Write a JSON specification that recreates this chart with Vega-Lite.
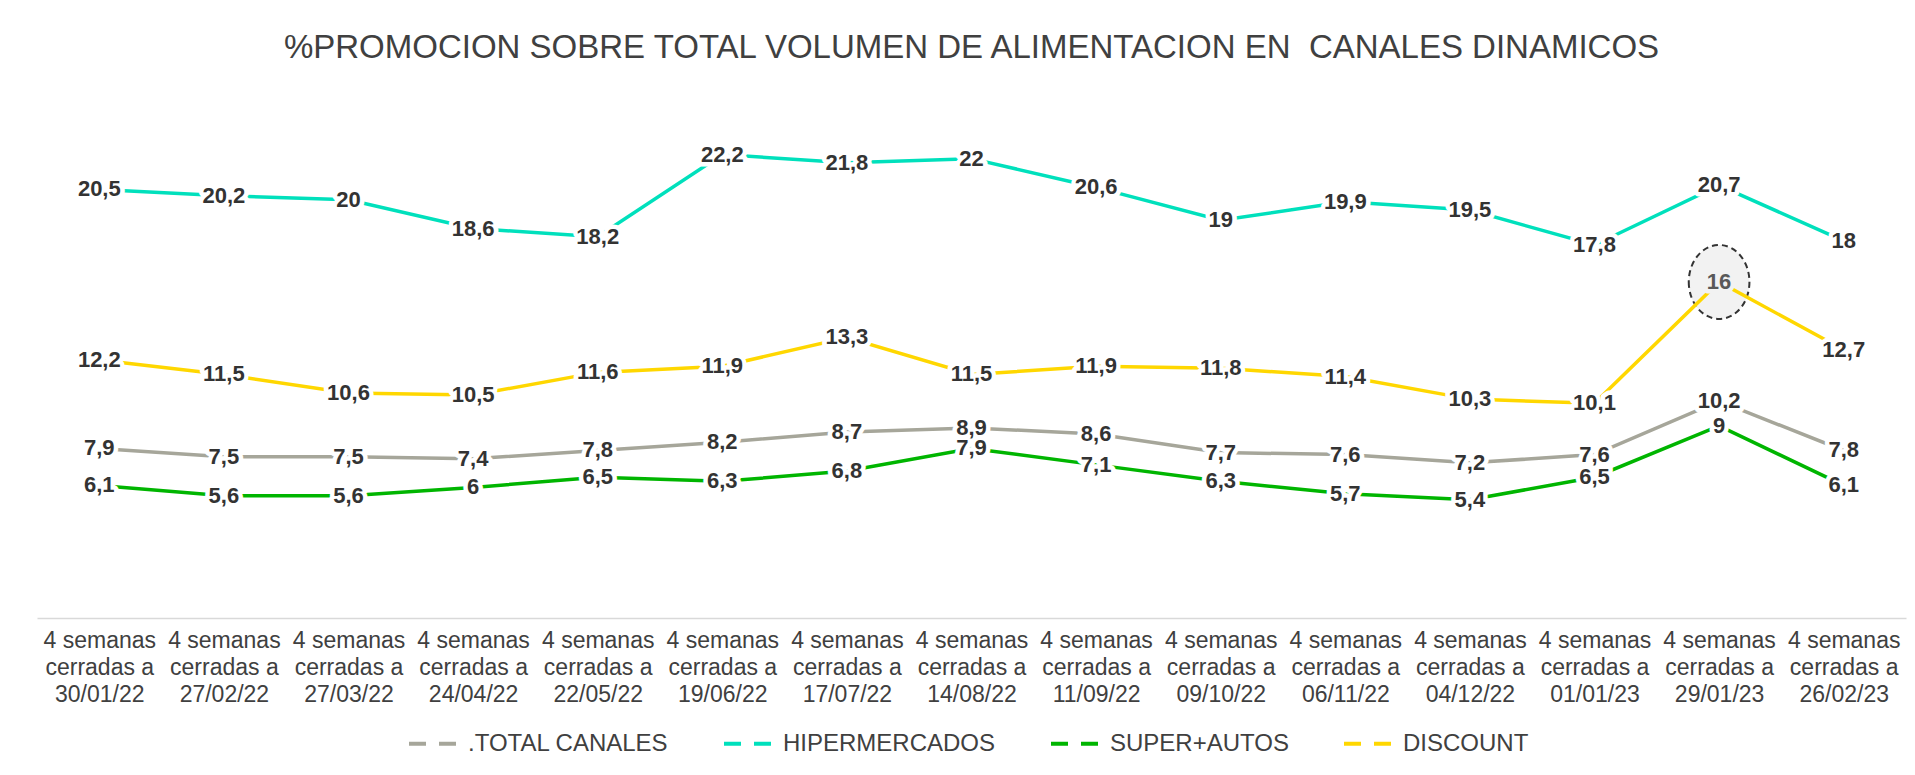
{
  "$schema": "https://vega.github.io/schema/vega-lite/v6.json",
  "autosize": "none",
  "width": 1869,
  "height": 521,
  "padding": {"left": 37, "top": 97, "right": 9, "bottom": 157},
  "background": "white",
  "config": {
    "view": {"stroke": null},
    "font": "Liberation Sans",
    "locale": {"number": {"decimal": ",", "thousands": ".", "grouping": [3], "currency": ["", " €"]}}
  },
  "title": {
    "text": "%PROMOCION SOBRE TOTAL VOLUMEN DE ALIMENTACION EN \u00a0CANALES DINAMICOS",
    "font": "Liberation Sans",
    "fontSize": 33,
    "fontWeight": "normal",
    "color": "#404040",
    "anchor": "middle",
    "offset": 32
  },
  "data": {
    "values": [
      {"periodo": "4 semanas cerradas a 30/01/22", "serie": ".TOTAL CANALES", "valor": 7.9},
      {"periodo": "4 semanas cerradas a 27/02/22", "serie": ".TOTAL CANALES", "valor": 7.5},
      {"periodo": "4 semanas cerradas a 27/03/22", "serie": ".TOTAL CANALES", "valor": 7.5},
      {"periodo": "4 semanas cerradas a 24/04/22", "serie": ".TOTAL CANALES", "valor": 7.4},
      {"periodo": "4 semanas cerradas a 22/05/22", "serie": ".TOTAL CANALES", "valor": 7.8},
      {"periodo": "4 semanas cerradas a 19/06/22", "serie": ".TOTAL CANALES", "valor": 8.2},
      {"periodo": "4 semanas cerradas a 17/07/22", "serie": ".TOTAL CANALES", "valor": 8.7},
      {"periodo": "4 semanas cerradas a 14/08/22", "serie": ".TOTAL CANALES", "valor": 8.9},
      {"periodo": "4 semanas cerradas a 11/09/22", "serie": ".TOTAL CANALES", "valor": 8.6},
      {"periodo": "4 semanas cerradas a 09/10/22", "serie": ".TOTAL CANALES", "valor": 7.7},
      {"periodo": "4 semanas cerradas a 06/11/22", "serie": ".TOTAL CANALES", "valor": 7.6},
      {"periodo": "4 semanas cerradas a 04/12/22", "serie": ".TOTAL CANALES", "valor": 7.2},
      {"periodo": "4 semanas cerradas a 01/01/23", "serie": ".TOTAL CANALES", "valor": 7.6},
      {"periodo": "4 semanas cerradas a 29/01/23", "serie": ".TOTAL CANALES", "valor": 10.2},
      {"periodo": "4 semanas cerradas a 26/02/23", "serie": ".TOTAL CANALES", "valor": 7.8},
      {"periodo": "4 semanas cerradas a 30/01/22", "serie": "HIPERMERCADOS", "valor": 20.5},
      {"periodo": "4 semanas cerradas a 27/02/22", "serie": "HIPERMERCADOS", "valor": 20.2},
      {"periodo": "4 semanas cerradas a 27/03/22", "serie": "HIPERMERCADOS", "valor": 20},
      {"periodo": "4 semanas cerradas a 24/04/22", "serie": "HIPERMERCADOS", "valor": 18.6},
      {"periodo": "4 semanas cerradas a 22/05/22", "serie": "HIPERMERCADOS", "valor": 18.2},
      {"periodo": "4 semanas cerradas a 19/06/22", "serie": "HIPERMERCADOS", "valor": 22.2},
      {"periodo": "4 semanas cerradas a 17/07/22", "serie": "HIPERMERCADOS", "valor": 21.8},
      {"periodo": "4 semanas cerradas a 14/08/22", "serie": "HIPERMERCADOS", "valor": 22},
      {"periodo": "4 semanas cerradas a 11/09/22", "serie": "HIPERMERCADOS", "valor": 20.6},
      {"periodo": "4 semanas cerradas a 09/10/22", "serie": "HIPERMERCADOS", "valor": 19},
      {"periodo": "4 semanas cerradas a 06/11/22", "serie": "HIPERMERCADOS", "valor": 19.9},
      {"periodo": "4 semanas cerradas a 04/12/22", "serie": "HIPERMERCADOS", "valor": 19.5},
      {"periodo": "4 semanas cerradas a 01/01/23", "serie": "HIPERMERCADOS", "valor": 17.8},
      {"periodo": "4 semanas cerradas a 29/01/23", "serie": "HIPERMERCADOS", "valor": 20.7},
      {"periodo": "4 semanas cerradas a 26/02/23", "serie": "HIPERMERCADOS", "valor": 18},
      {"periodo": "4 semanas cerradas a 30/01/22", "serie": "SUPER+AUTOS", "valor": 6.1},
      {"periodo": "4 semanas cerradas a 27/02/22", "serie": "SUPER+AUTOS", "valor": 5.6},
      {"periodo": "4 semanas cerradas a 27/03/22", "serie": "SUPER+AUTOS", "valor": 5.6},
      {"periodo": "4 semanas cerradas a 24/04/22", "serie": "SUPER+AUTOS", "valor": 6},
      {"periodo": "4 semanas cerradas a 22/05/22", "serie": "SUPER+AUTOS", "valor": 6.5},
      {"periodo": "4 semanas cerradas a 19/06/22", "serie": "SUPER+AUTOS", "valor": 6.3},
      {"periodo": "4 semanas cerradas a 17/07/22", "serie": "SUPER+AUTOS", "valor": 6.8},
      {"periodo": "4 semanas cerradas a 14/08/22", "serie": "SUPER+AUTOS", "valor": 7.9},
      {"periodo": "4 semanas cerradas a 11/09/22", "serie": "SUPER+AUTOS", "valor": 7.1},
      {"periodo": "4 semanas cerradas a 09/10/22", "serie": "SUPER+AUTOS", "valor": 6.3},
      {"periodo": "4 semanas cerradas a 06/11/22", "serie": "SUPER+AUTOS", "valor": 5.7},
      {"periodo": "4 semanas cerradas a 04/12/22", "serie": "SUPER+AUTOS", "valor": 5.4},
      {"periodo": "4 semanas cerradas a 01/01/23", "serie": "SUPER+AUTOS", "valor": 6.5},
      {"periodo": "4 semanas cerradas a 29/01/23", "serie": "SUPER+AUTOS", "valor": 9},
      {"periodo": "4 semanas cerradas a 26/02/23", "serie": "SUPER+AUTOS", "valor": 6.1},
      {"periodo": "4 semanas cerradas a 30/01/22", "serie": "DISCOUNT", "valor": 12.2},
      {"periodo": "4 semanas cerradas a 27/02/22", "serie": "DISCOUNT", "valor": 11.5},
      {"periodo": "4 semanas cerradas a 27/03/22", "serie": "DISCOUNT", "valor": 10.6},
      {"periodo": "4 semanas cerradas a 24/04/22", "serie": "DISCOUNT", "valor": 10.5},
      {"periodo": "4 semanas cerradas a 22/05/22", "serie": "DISCOUNT", "valor": 11.6},
      {"periodo": "4 semanas cerradas a 19/06/22", "serie": "DISCOUNT", "valor": 11.9},
      {"periodo": "4 semanas cerradas a 17/07/22", "serie": "DISCOUNT", "valor": 13.3},
      {"periodo": "4 semanas cerradas a 14/08/22", "serie": "DISCOUNT", "valor": 11.5},
      {"periodo": "4 semanas cerradas a 11/09/22", "serie": "DISCOUNT", "valor": 11.9},
      {"periodo": "4 semanas cerradas a 09/10/22", "serie": "DISCOUNT", "valor": 11.8},
      {"periodo": "4 semanas cerradas a 06/11/22", "serie": "DISCOUNT", "valor": 11.4},
      {"periodo": "4 semanas cerradas a 04/12/22", "serie": "DISCOUNT", "valor": 10.3},
      {"periodo": "4 semanas cerradas a 01/01/23", "serie": "DISCOUNT", "valor": 10.1},
      {"periodo": "4 semanas cerradas a 29/01/23", "serie": "DISCOUNT", "valor": 16},
      {"periodo": "4 semanas cerradas a 26/02/23", "serie": "DISCOUNT", "valor": 12.7}
    ]
  },
  "encoding": {
    "x": {
      "field": "periodo",
      "type": "ordinal",
      "sort": [
        "4 semanas cerradas a 30/01/22", "4 semanas cerradas a 27/02/22", "4 semanas cerradas a 27/03/22",
        "4 semanas cerradas a 24/04/22", "4 semanas cerradas a 22/05/22", "4 semanas cerradas a 19/06/22",
        "4 semanas cerradas a 17/07/22", "4 semanas cerradas a 14/08/22", "4 semanas cerradas a 11/09/22",
        "4 semanas cerradas a 09/10/22", "4 semanas cerradas a 06/11/22", "4 semanas cerradas a 04/12/22",
        "4 semanas cerradas a 01/01/23", "4 semanas cerradas a 29/01/23", "4 semanas cerradas a 26/02/23"
      ],
      "scale": {"padding": 0.5},
      "axis": {
        "title": null,
        "labelAngle": 0,
        "labelExpr": "[substring(datum.label,0,9), substring(datum.label,10,20), substring(datum.label,21)]",
        "labelFont": "Liberation Sans",
        "labelFontSize": 23,
        "labelColor": "#404040",
        "labelLineHeight": 27,
        "labelLimit": 0,
        "labelPadding": 11,
        "ticks": false,
        "tickSize": 0,
        "domainColor": "#d9d9d9",
        "domainWidth": 1.5
      }
    },
    "y": {
      "field": "valor",
      "type": "quantitative",
      "scale": {"domain": [-0.35, 25], "nice": false, "zero": false},
      "axis": null
    }
  },
  "layer": [
    {
      "transform": [{"filter": "datum.serie === 'DISCOUNT' && datum.valor === 16"}],
      "mark": {
        "type": "point",
        "shape": "M -0.82,0 A 0.82,1 0 1,0 0.82,0 A 0.82,1 0 1,0 -0.82,0 Z",
        "size": 5476,
        "filled": true,
        "fill": "#f2f2f2",
        "fillOpacity": 1,
        "stroke": "#333333",
        "strokeWidth": 2,
        "strokeDash": [6, 4],
        "opacity": 1
      }
    },
    {
      "mark": {"type": "line", "strokeWidth": 3.5},
      "encoding": {
        "color": {
          "field": "serie",
          "type": "nominal",
          "sort": null,
          "scale": {
            "domain": [".TOTAL CANALES", "HIPERMERCADOS", "SUPER+AUTOS", "DISCOUNT"],
            "range": ["#a6a69a", "#00e0bc", "#00b500", "#ffd700"]
          },
          "legend": {
            "title": null,
            "orient": "none",
            "legendX": 370,
            "legendY": 621,
            "direction": "horizontal",
            "symbolType": "stroke",
            "symbolSize": 2209,
            "symbolStrokeWidth": 4,
            "symbolDash": [17, 13],
            "labelFont": "Liberation Sans",
            "labelFontSize": 24,
            "labelColor": "#404040",
            "labelOffset": 10,
            "columnPadding": 47,
            "labelLimit": 0
          }
        }
      }
    },
    {
      "mark": {
        "type": "text",
        "font": "Liberation Sans",
        "fontSize": 22,
        "fontWeight": "bold",
        "strokeWidth": 9,
        "strokeJoin": "round",
        "align": "center",
        "baseline": "middle"
      },
      "encoding": {
        "text": {"field": "valor", "type": "quantitative", "format": ".1~f"},
        "stroke": {
          "condition": {"test": "datum.serie === 'DISCOUNT' && datum.valor === 16", "value": "#f2f2f2"},
          "value": "white"
        },
        "color": {
          "condition": {"test": "datum.serie === 'DISCOUNT' && datum.valor === 16", "value": "#f2f2f2"},
          "value": "white"
        }
      }
    },
    {
      "mark": {
        "type": "text",
        "font": "Liberation Sans",
        "fontSize": 22,
        "fontWeight": "bold",
        "align": "center",
        "baseline": "middle"
      },
      "encoding": {
        "text": {"field": "valor", "type": "quantitative", "format": ".1~f"},
        "color": {
          "condition": {"test": "datum.serie === 'DISCOUNT' && datum.valor === 16", "value": "#595959"},
          "value": "#333333"
        }
      }
    }
  ]
}
